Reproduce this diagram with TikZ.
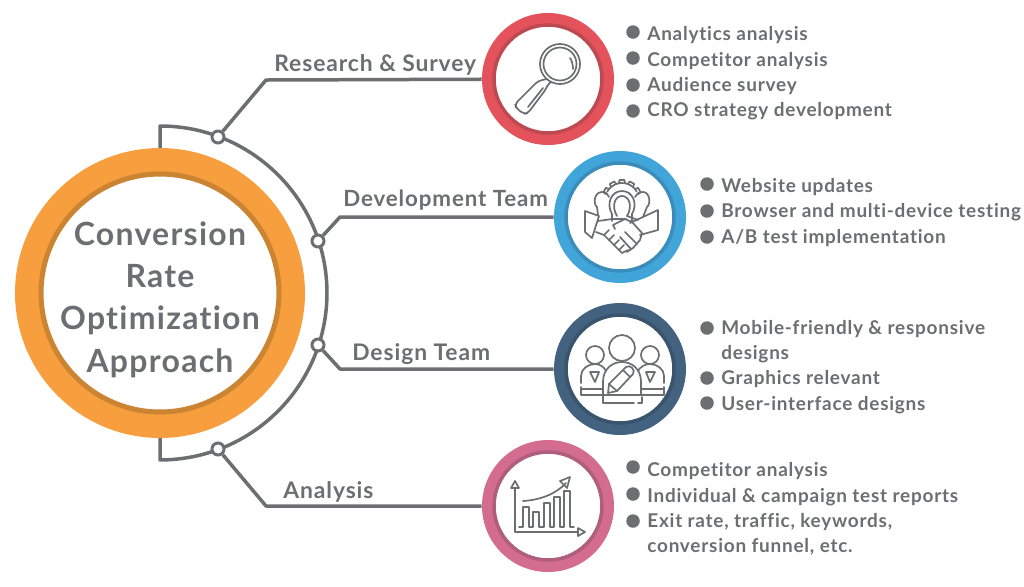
\documentclass[tikz,border=0pt]{standalone}
\usepackage{fontspec}
\setmainfont{Lato}[LetterSpace=4,Ligatures=NoCommon]
\usetikzlibrary{positioning}

\definecolor{inkgray}{HTML}{6D6E71}
\definecolor{orangering}{HTML}{F79E3E}
\definecolor{orangedark}{HTML}{CB8432}
\definecolor{redring}{HTML}{E4535B}
\definecolor{reddark}{HTML}{BC4A50}
\definecolor{bluering}{HTML}{42A5DA}
\definecolor{bluedark}{HTML}{3A8DBB}
\definecolor{navyring}{HTML}{426280}
\definecolor{navydark}{HTML}{3A546D}
\definecolor{pinkring}{HTML}{D36C8F}
\definecolor{pinkdark}{HTML}{AF5F7B}

\tikzset{
  ring/.style={circle,inner sep=0pt,minimum size=2.64cm},
  hole/.style={circle,inner sep=0pt,minimum size=2.16cm,fill=white,line width=0.07cm},
  conn/.style={draw=inkgray,line width=0.07cm,line join=round},
  joint/.style={circle,inner sep=0pt,minimum size=0.24cm,fill=white,draw=inkgray,line width=0.06cm},
  icon/.style={draw=inkgray,line width=0.034cm,line join=round,line cap=round},
  title/.style={text=inkgray,font=\fontsize{18.2}{20}\selectfont\bfseries,anchor=base,inner sep=0pt},
  branch/.style={text=inkgray,font=\fontsize{13}{14}\selectfont\bfseries,anchor=base west,inner sep=0pt},
  item/.style={text=inkgray,font=\fontsize{10.8}{12}\selectfont\bfseries,anchor=base west,inner sep=0pt},
  bulletdot/.style={circle,inner sep=0pt,minimum size=0.27cm,fill=inkgray}
}

\begin{document}
\begin{tikzpicture}[x=0.02cm,y=-0.02cm]
  \useasboundingbox (0,0) rectangle (1024,586);

  % bracket round the hub
  \coordinate (brtop) at (160,160);
  \coordinate (brbot) at (160,430);
  \draw[conn] (brtop) -- (160,126) arc[start angle=90,end angle=-90,radius=3.34cm] -- (brbot);

  % hub
  \node[circle,inner sep=0pt,minimum size=5.8cm,fill=orangering] (hub) at (160,293) {};
  \node[circle,inner sep=0pt,minimum size=4.76cm,fill=white,draw=orangedark,line width=0.1cm] (hubin) at (hub) {};
  \node[title] (t1) at (160,245) {Conversion};
  \node[title] (t2) at (160,287) {Rate};
  \node[title] (t3) at (160,329) {Optimization};
  \node[title] (t4) at (160,372) {Approach};

  % the four rings
  \node[ring,fill=redring] (research) at (548,79) {};
  \node[hole,draw=reddark] (researchin) at (research) {};
  \node[ring,fill=bluering] (develop) at (620,217) {};
  \node[hole,draw=bluedark] (developin) at (develop) {};
  \node[ring,fill=navyring] (design) at (620,369) {};
  \node[hole,draw=navydark] (designin) at (design) {};
  \node[ring,fill=pinkring] (analysis) at (548,506) {};
  \node[hole,draw=pinkdark] (analysisin) at (analysis) {};

  % joints and connectors
  \node[joint] (ja) at (218,137) {};
  \node[joint] (jb) at (318,241) {};
  \node[joint] (jc) at (318,345) {};
  \node[joint] (jd) at (218,449) {};
  \coordinate (ka) at (266,80);
  \coordinate (kb) at (340,217);
  \coordinate (kc) at (340,369);
  \coordinate (kd) at (266,506);
  \draw[conn] (ja) -- (ka) -- (research);
  \draw[conn] (jb) -- (kb) -- (develop);
  \draw[conn] (jc) -- (kc) -- (design);
  \draw[conn] (jd) -- (kd) -- (analysis);

  \node[branch] (la) at (274,71) {Research \& Survey};
  \node[branch,font=\fontsize{12.7}{14}\selectfont\bfseries] (lb) at (343,206) {Development Team};
  \node[branch] (lc) at (352,360) {Design Team};
  \node[branch] (ld) at (283,498) {Analysis};

  % bullet lists
  \foreach \n/\by/\ty/\txt in {1/32/40/Analytics analysis,2/58/66/Competitor analysis,3/85/91/Audience survey,4/111/116/CRO strategy development} {
    \node[bulletdot] (ra\n) at (633,\by) {};
    \node[item] (rt\n) at (647,\ty) {\txt};
  }
  \foreach \n/\by/\ty/\txt in {1/184/192/Website updates,2/211/217/Browser and multi-device testing,3/237/243/{A/B test implementation}} {
    \node[bulletdot] (da\n) at (707,\by) {};
    \node[item] (dt\n) at (721,\ty) {\txt};
  }
  \foreach \n/\by/\ty/\txt in {1/328/334/Mobile-friendly \& responsive,3/378/384/Graphics relevant,4/403/410/User-interface designs} {
    \node[bulletdot] (ga\n) at (707,\by) {};
    \node[item] (gt\n) at (721,\ty) {\txt};
  }
  \node[item] (gt2) at (721,359) {designs};
  \foreach \n/\by/\ty/\txt in {1/467/476/Competitor analysis,2/494/502/Individual \& campaign test reports,3/521/527/{Exit rate, traffic, keywords,}} {
    \node[bulletdot] (na\n) at (633,\by) {};
    \node[item] (nt\n) at (647,\ty) {\txt};
  }
  \node[item] (nt4) at (647,552) {conversion funnel, etc.};

  % magnifier
  \draw[icon] (560,64) circle[radius=20] (560,64) circle[radius=16.5];
  \draw[icon] (570,58) .. controls (572,61) and (573,65) .. (573,69);
  \draw[icon,rounded corners=2pt] (547,79) -- (538,81) -- (515,104) -- (516,108) -- (524,114) -- (528,113) -- (546,89) -- (548,84) -- (551,82);
  \draw[icon] (528,107) -- (543,88);

  % gear, team and handshake
  \draw[icon] (607.3,191.5) arc[start angle=150,end angle=30,radius=0.34cm];
  \foreach \a in {-60,-30,0,30,60} {
    \draw[icon,shift={(622,200)},rotate=\a] (-3,-17) -- (-2.5,-20) -- (2.5,-20) -- (3,-17);
  }
  \draw[icon] (612,221) -- (612,214) .. controls (606,204) and (611,191) .. (622,191) .. controls (633,191) and (638,204) .. (632,214) -- (632,222);
  \draw[icon] (617,216) .. controls (611,206) and (615,196) .. (622,196) .. controls (629,196) and (633,206) .. (627,216) -- (638,220);
  \draw[icon] (598,215) -- (597,207) .. controls (593,204) and (594,192) .. (602,192) .. controls (606,192) and (608,194) .. (609,197);
  \draw[icon] (643,217) -- (647,207) .. controls (651,204) and (650,192) .. (643,192) .. controls (639,192) and (636,194) .. (635,197);
  \draw[icon] (585,211) -- (585,232) -- (592,238) -- (599,216) -- cycle;
  \draw[icon] (630,223) -- (658,210) -- (658,230) -- (640,235);
  \draw[icon] (598,221) -- (612,219) -- (626,219);
  \draw[icon] (615,229) -- (613,225) -- (625,219) -- (632,222) -- (642,233) -- (640,240) -- (633,248) -- (627,252);
  \draw[icon] (596,232) -- (604,235) -- (622,253) -- (628,250);
  \foreach \u/\v in {604/235,609/240,614/245,619/250} {
    \draw[icon] (\u,\v) -- ++(5,-5);
  }
  \draw[icon] (625,232) -- (637,244) (620,237) -- (631,249);

  % team with pencil
  \draw[icon] (622,348) circle[radius=13];
  \draw[icon] (595,355) circle[radius=9] (650,355) circle[radius=9];
  \draw[icon] (603,395) -- (603,382) .. controls (603,369) and (612,362) .. (622,362) .. controls (632,362) and (641,369) .. (641,382) -- (641,395) -- (603,395);
  \draw[icon] (603,395) -- (603,403) -- (634,403) (638,403) -- (642,403) -- (642,397);
  \draw[icon] (581,383) -- (581,376) .. controls (581,369) and (588,364) .. (595,364) .. controls (600,364) and (604,367) .. (606,371);
  \draw[icon] (664,383) -- (664,376) .. controls (664,369) and (657,364) .. (650,364) .. controls (645,364) and (640,367) .. (638,371);
  \draw[icon] (581,387) -- (581,395) -- (603,395) (581,389) -- (603,389);
  \draw[icon] (641,389) -- (664,389) (664,387) -- (664,395) -- (641,395);
  \draw[icon] (590,372) -- (599,372) -- (595,382) -- cycle;
  \draw[icon] (646,372) -- (655,372) -- (650,382) -- cycle;
  \draw[icon] (608,393) -- (609,384) -- (626,367) .. controls (630,364) and (636,370) .. (633,374) -- (617,391) -- cycle;
  \draw[icon] (609,384) -- (617,391) (623,370) -- (630,377);

  % bar chart
  \draw[icon] (515,488) -- (515,532) -- (578,532);
  \draw[icon] (515,481) -- (511,488) -- (519,488) -- cycle;
  \draw[icon] (578,528) -- (585,532) -- (578,536) -- cycle;
  \draw[icon] (519,527) -- (523,527) -- (523,507) -- (529,507) -- (529,527) -- (533,527) -- (533,512) -- (539,512) -- (539,527) -- (544,527) -- (544,503) -- (550,503) -- (550,527) -- (554,527) -- (554,497) -- (560,497) -- (560,527) -- (564,527) -- (564,491) -- (570,491) -- (570,527) -- (574,527);
  \draw[icon] (523,501) .. controls (540,500) and (556,494) .. (566,483);
  \draw[icon] (570,477) -- (560,481) -- (567,488) -- cycle;
\end{tikzpicture}
\end{document}
